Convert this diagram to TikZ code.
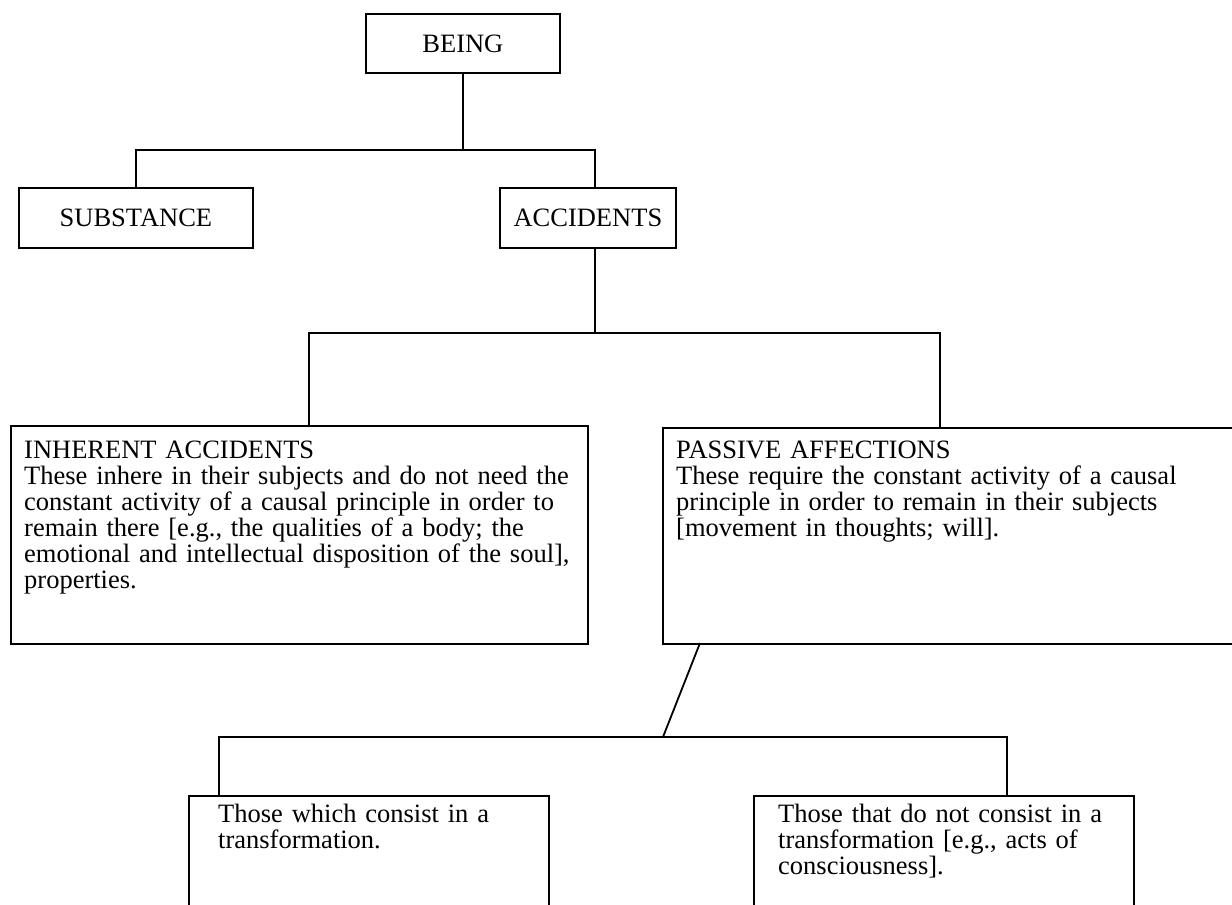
\documentclass[tikz,border=0pt]{standalone}
\usepackage{fontspec}
\setmainfont{Liberation Serif}
\begin{document}
\begin{tikzpicture}[x=1pt,y=-1pt,
  ln/.style={line width=1.8pt},
  bx/.style={draw, line width=1.8pt, inner sep=0pt, anchor=north west, font=\fontsize{26.5}{26}\selectfont},
  txt/.style={font=\fontsize{26.5}{26}\selectfont, inner sep=0pt, anchor=base west, align=left, text width=#1},
  txt/.default=560pt]
\useasboundingbox (0,0) rectangle (1232,905);
\clip (0,0) rectangle (1232,905);
% boxes
\node[bx, minimum width=194pt, minimum height=59pt] (being) at (365,13) {BEING};
\node[bx, minimum width=234pt, minimum height=60pt] (sub) at (18,187) {SUBSTANCE};
\node[bx, minimum width=176pt, minimum height=60pt] (acc) at (499,187) {ACCIDENTS};
\node[bx, minimum width=577pt, minimum height=218pt] (inh) at (10,425) {};
\node[bx, minimum width=580pt, minimum height=216pt] (pas) at (662,427) {};
\node[bx, minimum width=360pt, minimum height=130pt] (bl) at (188,795) {};
\node[bx, minimum width=380pt, minimum height=130pt] (br) at (753,795) {};
% texts
\node[txt=560pt] (inhT) at (24,458) {INHERENT ACCIDENTS\\
These inhere in their subjects and do not need the\\
constant activity of a causal principle in order to\\
remain there [e.g., the qualities of a body; the\\
emotional and intellectual disposition of the soul],\\
properties.};
\node[txt=550pt] (pasT) at (676,458) {PASSIVE AFFECTIONS\\
These require the constant activity of a causal\\
principle in order to remain in their subjects\\
{[}movement in thoughts; will].};
\node[txt=320pt] (blT) at (218,822) {Those which consist in a\\
transformation.};
\node[txt=340pt] (brT) at (778,822) {Those that do not consist in a\\
transformation [e.g., acts of\\
consciousness].};
% connectors
\coordinate (j1) at (462,150);
\coordinate (j2) at (595,333);
\coordinate (d1) at (700,643);
\coordinate (d2) at (663,737);
\draw[ln] (being.south) -- (being.south |- j1);
\draw[ln] (sub.north) |- (j1) -| ([xshift=96pt]acc.north west);
\draw[ln] ([xshift=96pt]acc.south west) -- (j2);
\draw[ln] ([xshift=299pt]inh.north west) |- (j2) -| ([xshift=278pt]pas.north west);
\draw[ln] (d1) -- (d2);
\draw[ln] ([xshift=31pt]bl.north west) |- (d2) -| ([xshift=254pt]br.north west);
\end{tikzpicture}
\end{document}
